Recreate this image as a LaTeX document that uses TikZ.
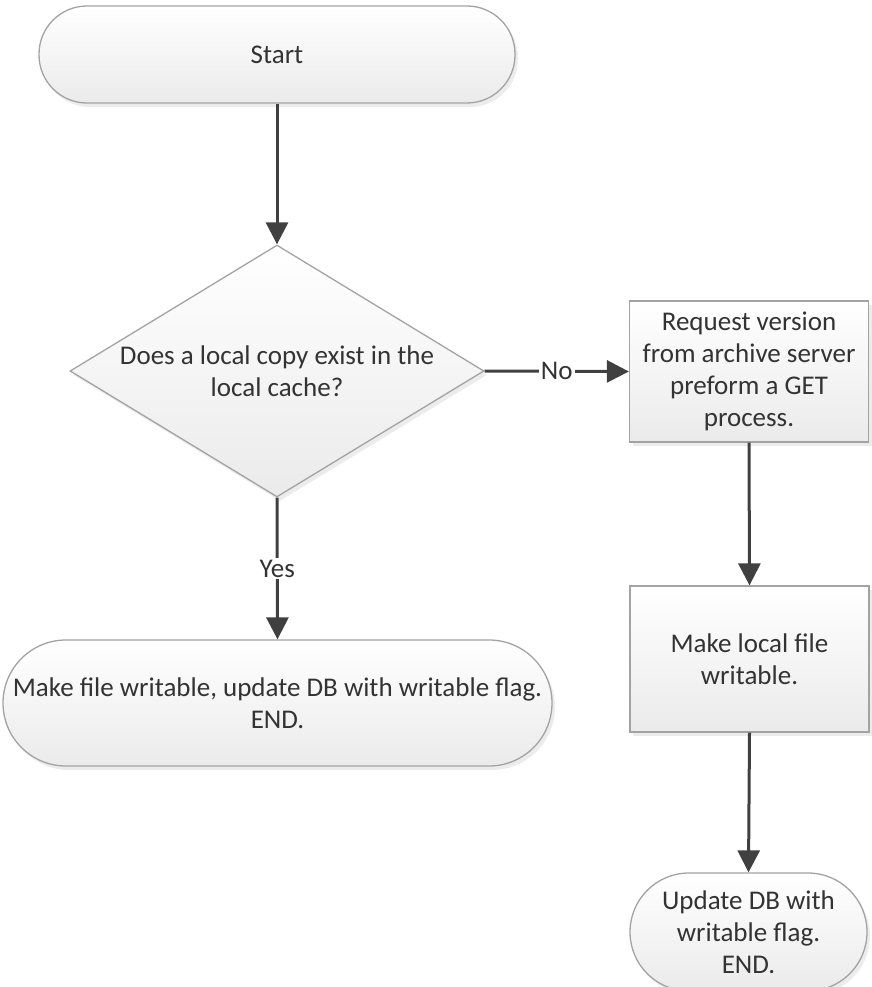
\documentclass[tikz,border=0pt]{standalone}
\usepackage{fontspec}
\setmainfont{Carlito}
\usetikzlibrary{shapes.geometric,arrows.meta,shadows}
\definecolor{edgec}{HTML}{A3A3A3}
\definecolor{arrc}{HTML}{404040}
\definecolor{txtc}{HTML}{333333}
\begin{document}
\begin{tikzpicture}[x=1pt,y=-1pt,
  base/.style={draw=edgec, line width=1.3pt, top color=white, bottom color=black!8,
    text=txtc, font=\fontsize{27}{32}\selectfont, align=center,
    drop shadow={opacity=0.15, shadow xshift=3pt, shadow yshift=-4pt}},
  term/.style={base, rectangle, rounded corners=#1, inner sep=0pt},
  procbox/.style={base, rectangle, inner sep=0pt},
  decision/.style={base, diamond, aspect=1.64, inner sep=0pt},
  flow/.style={draw=arrc, line width=3pt, -{Triangle[width=22pt,length=22pt]}},
  lbl/.style={fill=white, text=txtc, inner sep=2pt, font=\fontsize{27}{32}\selectfont}
]
\useasboundingbox (0,0) rectangle (871,987);
\node[term=48pt, minimum width=476pt, minimum height=97pt] (start) at (277,54.5) {Start};
\node[decision, minimum width=414pt, minimum height=252pt] (dec) at (277,371) {Does a local copy exist in the\\local cache?};
\node[procbox, minimum width=239pt, minimum height=141pt] (req) at (749,371.5) {Request version\\from archive server\\preform a GET\\process.};
\node[procbox, minimum width=239pt, minimum height=146pt] (mk) at (749.5,659) {Make local file\\writable.};
\node[term=63pt, minimum width=549pt, minimum height=126pt] (endl) at (277.5,703) {Make file writable, update DB with writable flag.\\END.};
\node[term=59pt, minimum width=237pt, minimum height=118pt] (endr) at (748.5,932) {Update DB with\\writable flag.\\END.};
\draw[flow] (start.south) -- (dec.north);
\draw[flow] (dec.east) -- node[lbl] {No} (req.west);
\draw[flow] (dec.south) -- node[lbl] {Yes} (endl.north);
\draw[flow] (req.south) -- (mk.north);
\draw[flow] (mk.south) -- (endr.north);
\end{tikzpicture}
\end{document}
